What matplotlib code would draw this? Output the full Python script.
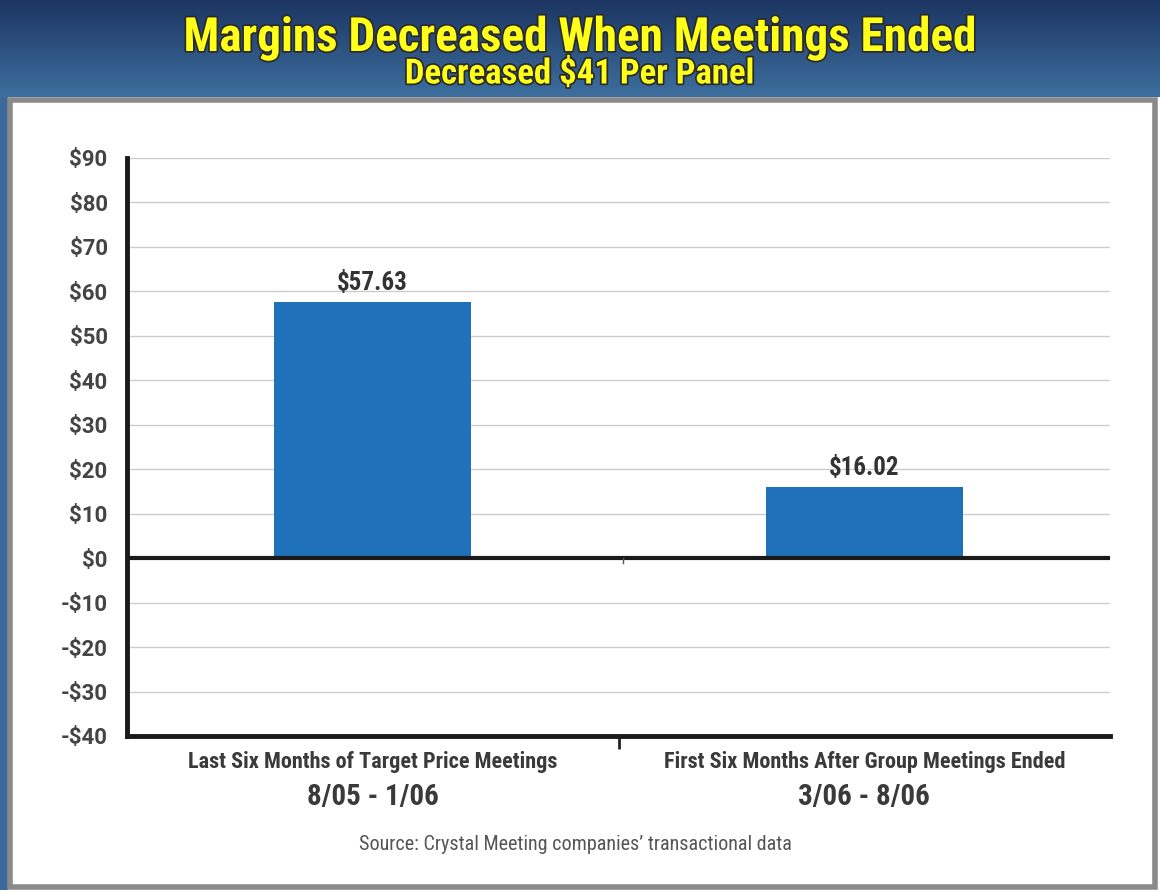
import numpy as np
import matplotlib.pyplot as plt
import matplotlib.patheffects as pe
from matplotlib.patches import Rectangle

# data
categories = ["Last Six Months of Target Price Meetings", "First Six Months After Group Meetings Ended"]
periods = ["8/05 - 1/06", "3/06 - 8/06"]
margins = [57.63, 16.02]
yticks = list(range(-40, 100, 10))

W, H = 1160, 890
fig = plt.figure(figsize=(W / 100, H / 100), dpi=100)
fig.patch.set_facecolor("white")

cond = ["Roboto Condensed", "Liberation Sans Narrow", "DejaVu Sans"]

# header gradient
hdr = fig.add_axes([0, 1 - 97 / H, 1, 97 / H], zorder=-2)
grad = np.linspace(0, 1, 100).reshape(-1, 1)
top = np.array([0x1c, 0x35, 0x62]) / 255
bot = np.array([0x3d, 0x6f, 0x9e]) / 255
img = top + (bot - top) * grad[:, :, None]
hdr.imshow(img, aspect="auto", extent=[0, 1, 0, 1])
hdr.axis("off")

# left strip and panel frame
fig.patches.append(Rectangle((0, 0), 8 / W, 1 - 97 / H, transform=fig.transFigure,
                             facecolor="#3a6a99", edgecolor="none", zorder=-3))
fig.patches.append(Rectangle((10 / W, 3 / H), 1145 / W, (H - 103) / H, transform=fig.transFigure,
                             facecolor="white", edgecolor="#8a8a8a", linewidth=4, zorder=-3))

stroke = [pe.withStroke(linewidth=2.5, foreground="#2a2a2a")]
fig.text(0.5, 1 - 38 / H, "Margins Decreased When Meetings Ended", ha="center", va="center",
         color="#ffff1a", fontsize=34, fontweight="heavy", family=cond, path_effects=stroke)
fig.text(0.5, 1 - 74 / H, "Decreased $41 Per Panel", ha="center", va="center",
         color="#ffff1a", fontsize=25, fontweight="heavy", family=cond, path_effects=stroke)

# chart
ax = fig.add_axes([127 / W, 1 - 736 / H, (1110 - 127) / W, (736 - 158) / H])
x = np.arange(len(margins))
ax.bar(x, margins, width=0.4, color="#1f72b9", zorder=3)
ax.set_xlim(-0.5, 1.5)
ax.set_ylim(-40, 90)
ax.set_yticks(yticks)
ax.set_yticklabels([f"-${-v}" if v < 0 else f"${v}" for v in yticks],
                   fontsize=16, fontweight="bold", color="#444444", family=["Roboto", "DejaVu Sans"])
ax.tick_params(axis="y", length=0, pad=14)
ax.set_xticks([0.5])
ax.set_xticklabels([""])
ax.tick_params(axis="x", length=9, width=2, direction="out", color="#222222")
ax.grid(axis="y", color="#cccccc", linewidth=1, zorder=0)
ax.axhline(0, color="#1a1a1a", linewidth=3, zorder=4)
ax.plot([0.51, 0.51], [0, -1.2], color="#555555", linewidth=1, zorder=4)
for s in ["top", "right"]:
    ax.spines[s].set_visible(False)
for s in ["left", "bottom"]:
    ax.spines[s].set_linewidth(3.5)
    ax.spines[s].set_color("#1a1a1a")

for xi, v in zip(x, margins):
    ax.text(xi, v + 1.5, f"${v:.2f}", ha="center", va="bottom", fontsize=18,
            fontweight="bold", color="#333333", family=cond)

for xi, c, p in zip(x, categories, periods):
    ax.annotate(c, (xi, -40), xytext=(0, -19), textcoords="offset points", ha="center",
                va="center", fontsize=16, fontweight="bold", color="#3a3a3a", family=cond)
    ax.annotate(p, (xi, -40), xytext=(0, -44), textcoords="offset points", ha="center",
                va="center", fontsize=21, fontweight="bold", color="#3a3a3a", family=cond)

fig.text(575 / W, 1 - 845 / H, "Source: Crystal Meeting companies\u2019 transactional data",
         ha="center", va="center", fontsize=14.5, color="#555555", family=cond)

fig.savefig("out.png", dpi=100)
